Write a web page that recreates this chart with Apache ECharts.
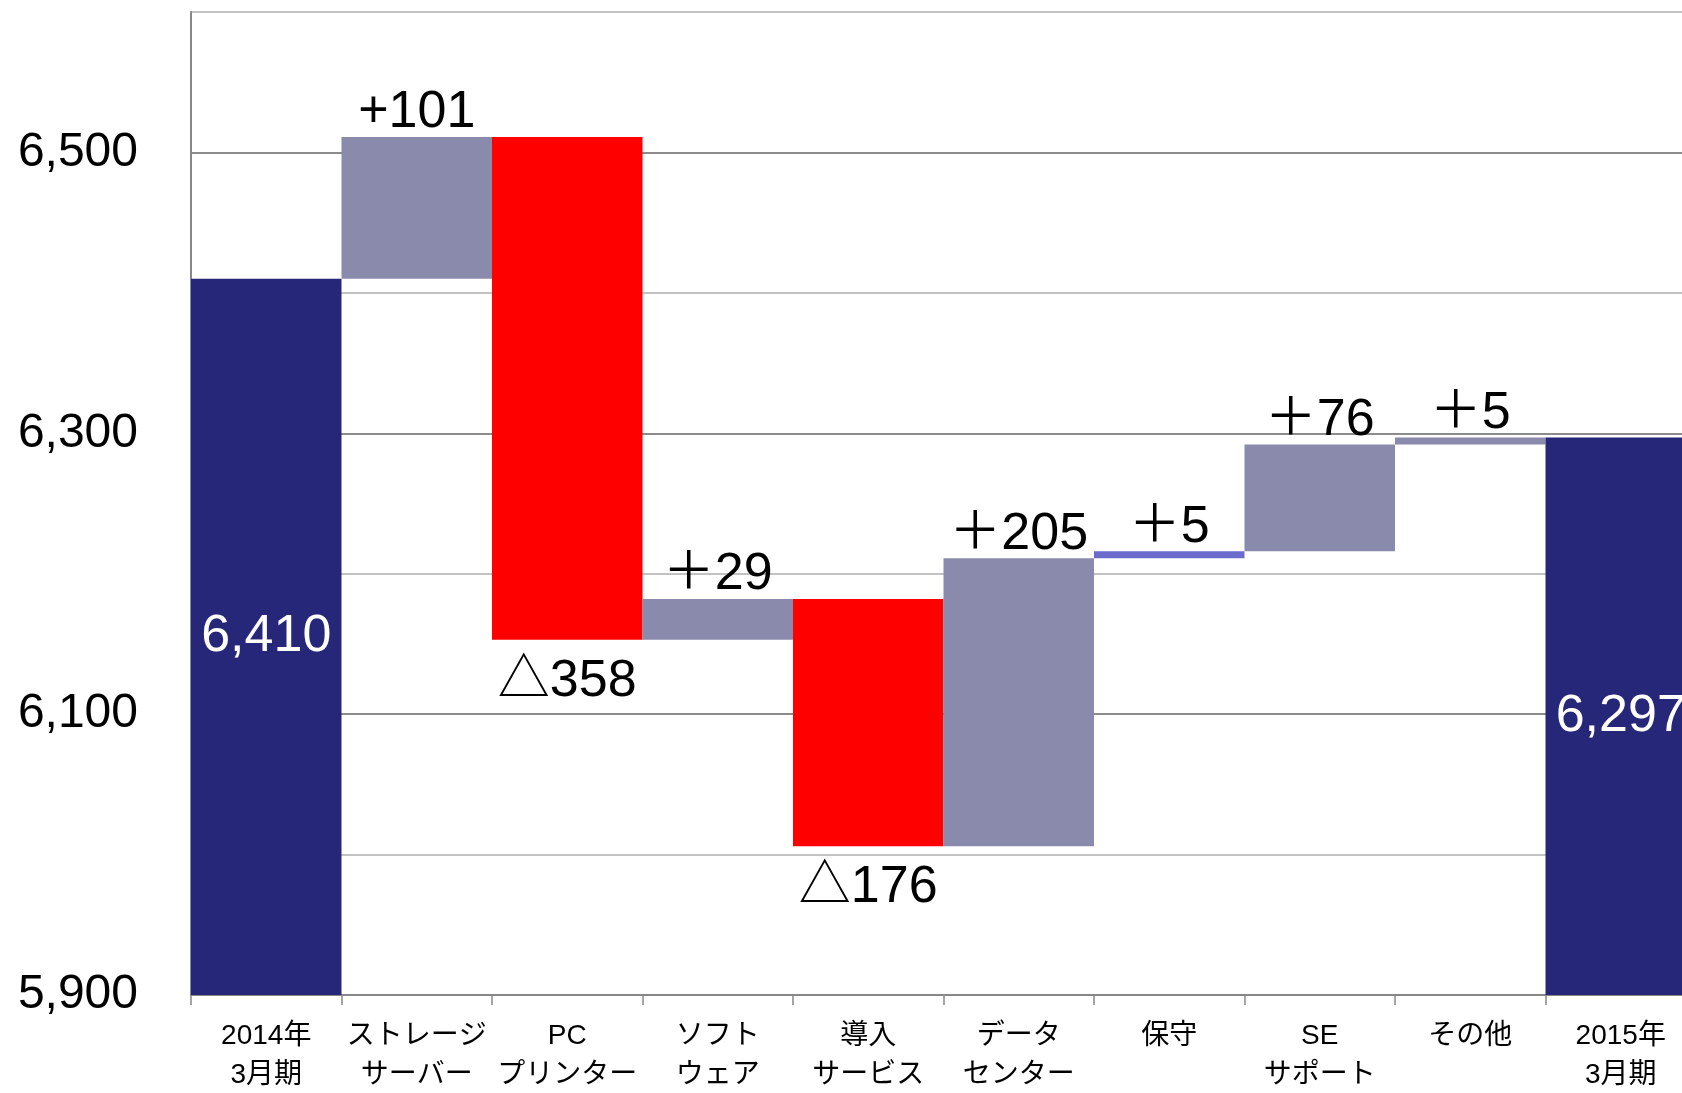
<!DOCTYPE html>
<html lang="ja">
<head>
<meta charset="utf-8">
<title>売上高増減要因（2014年3月期 → 2015年3月期）</title>
<script src="https://cdn.jsdelivr.net/npm/echarts@6/dist/echarts.min.js"></script>
<style>
  html, body { margin: 0; padding: 0; background: #ffffff; }
  #chart { width: 1682px; height: 1093px; }
</style>
</head>
<body>
<div id="chart"></div>
<script>
// Categories along the x axis (line breaks as shown under each bar)
const categories = [
  '2014年\n3月期',
  'ストレージ\nサーバー',
  'PC\nプリンター',
  'ソフト\nウェア',
  '導入\nサービス',
  'データ\nセンター',
  '保守',
  'SE\nサポート',
  'その他',
  '2015年\n3月期'
];

// Opening and closing totals
const startTotal = 6410;
const endTotal = 6297;

// Change contributed by each segment between the two totals
const changes = [101, -358, 29, -176, 205, 5, 76, 5];

// Sign marks printed in front of each change
const changePrefix = ['+', '△', '＋', '△', '＋', '＋', '＋', '＋'];

// Value axis range and tick step
const axisMin = 5900;
const axisMax = 6600;
const axisStep = 100;
const axisLabelStep = 200;

// Palette
const COLOR_TOTAL = '#27277a';
const COLOR_UP = '#8a8aad';
const COLOR_DOWN = '#ff0000';
const COLOR_UP_ALT = '#6b6bcc';   // 保守

const fmt = v => String(v).replace(/\B(?=(\d{3})+(?!\d))/g, ',');

// Build invisible offsets + visible segments for a stacked waterfall
const baseData = [];
const barData = [];

baseData.push(axisMin);
barData.push({
  value: startTotal - axisMin,
  itemStyle: { color: COLOR_TOTAL },
  label: { show: true, position: 'inside', color: '#ffffff', formatter: () => fmt(startTotal) }
});

let running = startTotal;
changes.forEach((c, i) => {
  const text = changePrefix[i] + Math.abs(c);
  if (c >= 0) {
    baseData.push(running);
    running += c;
    barData.push({
      value: c,
      itemStyle: { color: categories[i + 1] === '保守' ? COLOR_UP_ALT : COLOR_UP },
      label: { show: true, position: 'top', distance: -2, color: '#000000', formatter: () => text }
    });
  } else {
    running += c;
    baseData.push(running);
    barData.push({
      value: -c,
      itemStyle: { color: COLOR_DOWN },
      label: { show: true, position: 'bottom', distance: 16, color: '#000000', formatter: () => text }
    });
  }
});

baseData.push(axisMin);
barData.push({
  value: endTotal - axisMin,
  itemStyle: { color: COLOR_TOTAL },
  label: { show: true, position: 'inside', color: '#ffffff', formatter: () => fmt(endTotal) }
});

const LATIN_JP = "'Liberation Sans', Arial, 'Noto Sans CJK JP', sans-serif";

const chart = echarts.init(document.getElementById('chart'), null, { renderer: 'canvas' });

chart.setOption({
  animation: false,
  backgroundColor: '#ffffff',
  grid: {
    left: 191,
    right: -14,
    top: 12,
    bottom: 98,
    containLabel: false,
    outerBoundsMode: 'none'
  },
  xAxis: {
    type: 'category',
    data: categories,
    boundaryGap: true,
    axisLine: { show: true, onZero: false, lineStyle: { color: '#888888', width: 2 } },
    axisTick: { show: true, alignWithLabel: false, length: 10, lineStyle: { color: '#888888', width: 1.5 } },
    axisLabel: {
      interval: 0,
      margin: 22,
      fontSize: 28,
      lineHeight: 39,
      color: '#000000',
      fontFamily: LATIN_JP
    },
    splitLine: { show: false }
  },
  yAxis: {
    type: 'value',
    min: axisMin,
    max: axisMax,
    interval: axisStep,
    axisLine: { show: true, lineStyle: { color: '#888888', width: 2 } },
    axisTick: { show: false },
    axisLabel: {
      margin: 53,
      fontSize: 48,
      color: '#000000',
      fontFamily: LATIN_JP,
      formatter: v => ((v - axisMin) % axisLabelStep === 0 ? fmt(v) : '')
    },
    splitLine: {
      show: true,
      lineStyle: { color: ['#8c8c8c', '#c2c2c2'], width: 2 }
    }
  },
  series: [
    {
      name: 'offset',
      type: 'bar',
      stack: 'waterfall',
      silent: true,
      itemStyle: { color: 'transparent' },
      emphasis: { disabled: true },
      barCategoryGap: '0%',
      data: baseData
    },
    {
      name: 'change',
      type: 'bar',
      stack: 'waterfall',
      barCategoryGap: '0%',
      label: {
        fontSize: 52,
        fontFamily: LATIN_JP
      },
      emphasis: { disabled: true },
      data: barData
    }
  ]
});
</script>
</body>
</html>
